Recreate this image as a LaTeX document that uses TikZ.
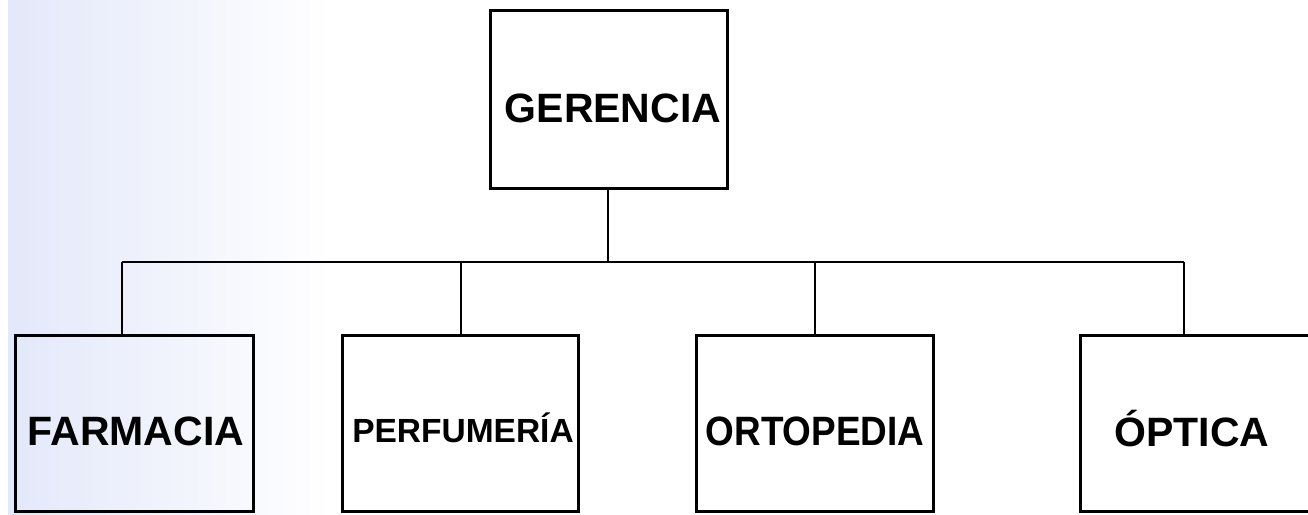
\documentclass[tikz,border=0pt]{standalone}
\usepackage{fontspec}
\setmainfont{Liberation Sans}
\definecolor{bgblue}{HTML}{E3E8FA}
\tikzset{
  box/.style={draw=black, line width=3pt, rectangle, inner sep=0pt},
  lbl/.style={inner sep=0pt, anchor=base},
  conn/.style={draw=black, line width=2.6pt}
}
\begin{document}
\begin{tikzpicture}[x=1pt,y=-1pt]
\useasboundingbox (0,0) rectangle (1308,514);
% background tint
\shade[left color=bgblue, right color=white] (8,0) rectangle (330,514);
\fill[white] (330,0) rectangle (1308,514);
% boxes
\node[box, minimum width=237, minimum height=178] (ger) at (608.5,99) {};
\node[box, minimum width=238, minimum height=176] (far) at (134,423) {};
\node[box, minimum width=236, minimum height=176] (per) at (460,423) {};
\node[box, minimum width=237, minimum height=176] (ort) at (814.5,423) {};
\node[box, minimum width=237, minimum height=176] (opt) at (1198.5,423) {};
% labels
\node[lbl, font=\fontsize{41}{48}\selectfont\bfseries] (gert) at (613,122) {GERENCIA};
\node[lbl, font=\fontsize{41}{48}\selectfont\bfseries] (fart) at (136,445) {FARMACIA};
\node[lbl, font=\fontsize{33.5}{40}\selectfont\bfseries] (pert) at (463,442) {PERFUMERÍA};
\node[lbl, font=\fontsize{41}{48}\selectfont\bfseries, xscale=0.9] (ortt) at (815,445) {ORTOPEDIA};
\node[lbl, font=\fontsize{41}{48}\selectfont\bfseries] (optt) at (1192,446) {ÓPTICA};
% bus coordinates
\coordinate (hub) at (608,262);
\coordinate (b1) at (122,262);
\coordinate (b2) at (461,262);
\coordinate (b3) at (815,262);
\coordinate (b4) at (1184,262);
% connectors
\draw[conn] (ger.south -| hub) -- (hub);
\draw[conn] (b1) -- (b4);
\draw[conn] (b1) -- (b1 |- far.north);
\draw[conn] (b2) -- (b2 |- per.north);
\draw[conn] (b3) -- (b3 |- ort.north);
\draw[conn] (b4) -- (b4 |- opt.north);
\end{tikzpicture}
\end{document}
